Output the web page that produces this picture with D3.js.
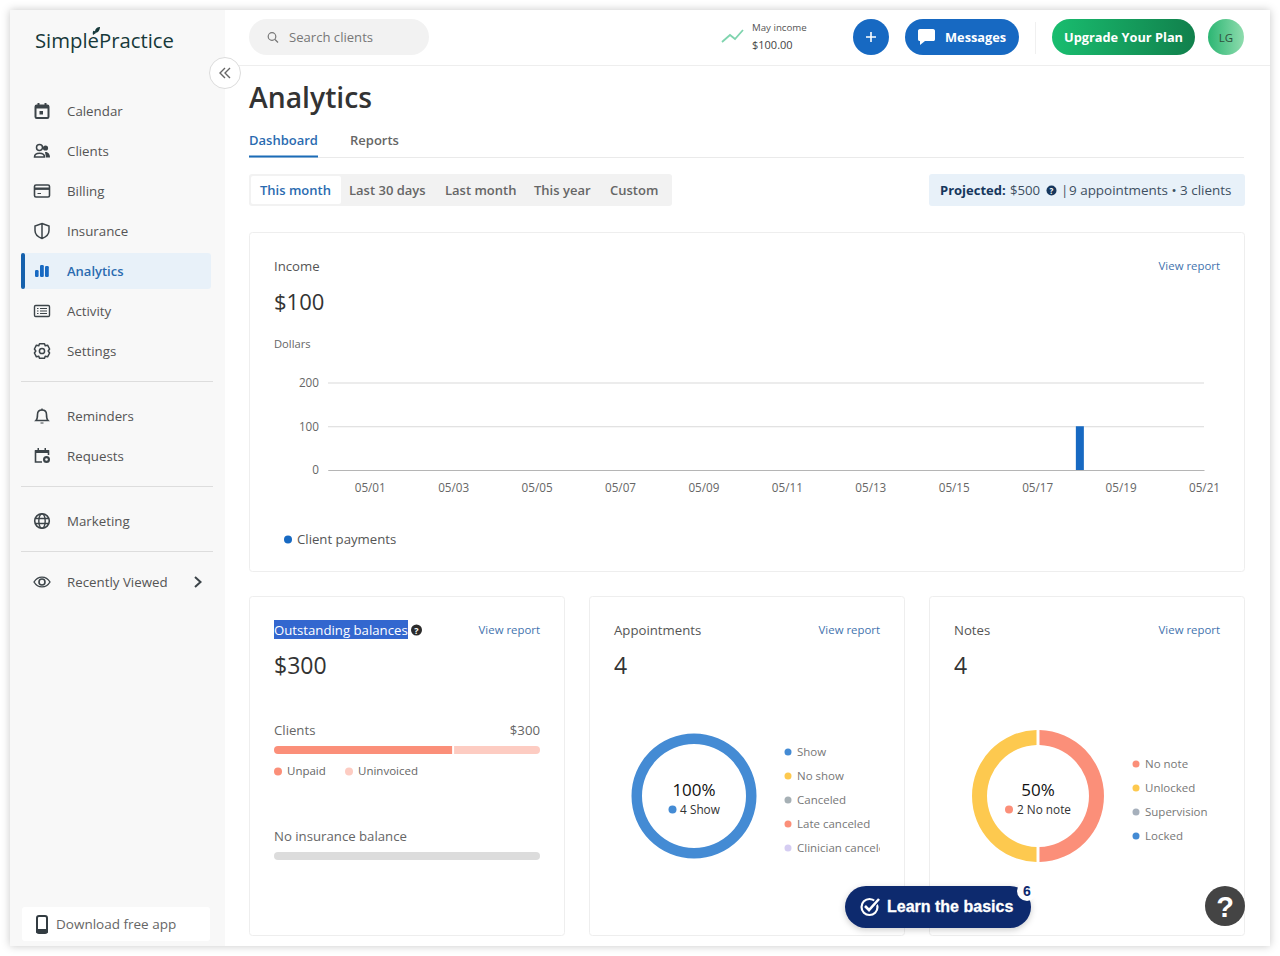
<!DOCTYPE html>
<html>
<head>
<meta charset="utf-8">
<title>Analytics</title>
<script src="https://cdn.jsdelivr.net/npm/d3@7"></script>
<style>
  html, body { margin: 0; background: #fff; }
  svg { display: block; font-family: "Open Sans", "Noto Sans", sans-serif; }
  .card { fill: #fff; stroke: #eeeeee; }
</style>
</head>
<body>
<div id="chart"></div>
<script>
/* Data */
const navTop = ['Calendar', 'Clients', 'Billing', 'Insurance', 'Analytics', 'Activity', 'Settings'];
const navMiddle = ['Reminders', 'Requests'];
const rangeTabs = ['This month', 'Last 30 days', 'Last month', 'This year', 'Custom'];

const days = ['04/30', '05/01', '05/02', '05/03', '05/04', '05/05', '05/06', '05/07', '05/08', '05/09', '05/10',
  '05/11', '05/12', '05/13', '05/14', '05/15', '05/16', '05/17', '05/18', '05/19', '05/20', '05/21'];
const clientPayments = [0, 0, 0, 0, 0, 0, 0, 0, 0, 0, 0, 0, 0, 0, 0, 0, 0, 0, 100, 0, 0, 0];
const incomeTicks = [0, 100, 200];
const dayTicks = ['05/01', '05/03', '05/05', '05/07', '05/09', '05/11', '05/13', '05/15', '05/17', '05/19', '05/21'];

const balanceLabels = ['Unpaid', 'Uninvoiced'];
const balanceValues = [202, 98];
const balanceColors = ['#fb8f79', '#fdccc2'];

const apptLabels = ['Show', 'No show', 'Canceled', 'Late canceled', 'Clinician canceled'];
const apptValues = [4, 0, 0, 0, 0];
const apptColors = ['#448bd4', '#fdc94f', '#a6b0b5', '#fb8f79', '#d5cdf2'];

const noteLabels = ['No note', 'Unlocked', 'Supervision', 'Locked'];
const noteValues = [2, 2, 0, 0];
const noteColors = ['#fb8f79', '#fdc94f', '#a6b0bc', '#448bd4'];

const blue = '#1769c2';
const width = 1280;
const height = 956;

const svg = d3.select('#chart').append('svg')
  .attr('width', width)
  .attr('height', height)
  .attr('viewBox', `0 0 ${width} ${height}`);

const defs = svg.append('defs');

const shadow = defs.append('filter').attr('id', 'shadow')
  .attr('x', '-3%').attr('y', '-3%').attr('width', '106%').attr('height', '106%');
shadow.append('feDropShadow').attr('dx', 0).attr('dy', 0).attr('stdDeviation', 4)
  .attr('flood-color', '#000').attr('flood-opacity', 0.22);

const pillShadow = defs.append('filter').attr('id', 'pill-shadow')
  .attr('x', '-10%').attr('y', '-30%').attr('width', '120%').attr('height', '160%');
pillShadow.append('feDropShadow').attr('dx', 0).attr('dy', 2).attr('stdDeviation', 3)
  .attr('flood-color', '#000').attr('flood-opacity', 0.2);

function gradient(id, c0, c1, vertical) {
  const g = defs.append('linearGradient').attr('id', id)
    .attr('x2', vertical ? 0 : 1).attr('y2', vertical ? 1 : 0);
  g.append('stop').attr('offset', '0%').attr('stop-color', c0);
  g.append('stop').attr('offset', '100%').attr('stop-color', c1);
}
gradient('upgrade', '#19bd6f', '#11804c');
gradient('avatar', '#2cb673', '#8fdcae');

function label(parent, x, y, str, size, fill, opts = {}) {
  return parent.append('text')
    .attr('x', x).attr('y', y)
    .attr('font-size', size)
    .attr('fill', fill)
    .attr('font-weight', opts.weight || 400)
    .attr('text-anchor', opts.anchor || 'start')
    .attr('font-family', opts.family || null)
    .text(str);
}

function box(parent, x, y, w, h, r, fill) {
  return parent.append('rect')
    .attr('x', x).attr('y', y).attr('width', w).attr('height', h).attr('rx', r)
    .attr('fill', fill);
}

/* Window and sidebar */
box(svg, 10, 10, 1260, 936, 0, '#fff').attr('filter', 'url(#shadow)');
box(svg, 10, 10, 215, 936, 0, '#f8f8f8');

const logo = svg.append('g');
label(logo, 35, 48, 'SimplePractice', 20.3, '#17393a', { weight: 500 });
logo.append('path').attr('d', 'M93 35 C92 31 94 29 96 33 Z M95 32 C95 28 98 27 100 27 C100 30 98 33 95 33 Z')
  .attr('fill', '#17393a');

const icons = {
  Calendar: (g) => {
    g.append('rect').attr('x', -6.5).attr('y', -5.5).attr('width', 13).attr('height', 12.5).attr('rx', 1.2)
      .attr('fill', 'none').attr('stroke', '#3c4449').attr('stroke-width', 2);
    g.append('path').attr('d', 'M-7 -6H7V-2.5H-7ZM-4.5 -8H-2.5V-5H-4.5ZM2.5 -8H4.5V-5H2.5Z').attr('fill', '#3c4449');
    g.append('rect').attr('x', -2.5).attr('y', 0).attr('width', 3.5).attr('height', 3.5).attr('fill', '#3c4449');
  },
  Clients: (g) => {
    g.append('circle').attr('cx', -2.5).attr('cy', -3.5).attr('r', 3).attr('fill', 'none').attr('stroke', '#3c4449').attr('stroke-width', 1.5);
    g.append('circle').attr('cx', 3.5).attr('cy', -3).attr('r', 2.6).attr('fill', '#3c4449');
    g.append('path').attr('d', 'M-7.5 6C-7.5 1 2.5 1 2.5 6Z').attr('fill', 'none').attr('stroke', '#3c4449').attr('stroke-width', 1.5);
    g.append('path').attr('d', 'M3 1C6 0.5 8 3 8 6.5H4Z').attr('fill', '#3c4449');
  },
  Billing: (g) => {
    g.append('rect').attr('x', -7.5).attr('y', -6).attr('width', 15).attr('height', 12).attr('rx', 1.5)
      .attr('fill', 'none').attr('stroke', '#3c4449').attr('stroke-width', 1.6);
    g.append('rect').attr('x', -7.5).attr('y', -3.5).attr('width', 15).attr('height', 2.4).attr('fill', '#3c4449');
    g.append('rect').attr('x', -4.5).attr('y', 2).attr('width', 3.5).attr('height', 1).attr('fill', '#3c4449');
  },
  Insurance: (g) => {
    g.append('path').attr('d', 'M0 -7.5L7 -5V-0.5C7 3.5 4 6 0 7.5C-4 6 -7 3.5 -7 -0.5V-5Z M0 -7.5V7.5')
      .attr('fill', 'none').attr('stroke', '#3c4449').attr('stroke-width', 1.5);
  },
  Analytics: (g) => {
    [[-7, -1, 3.6, 7], [-2, -6, 3.8, 12], [3, -5, 3.8, 11]].forEach(([x, y, w, h]) => {
      g.append('rect').attr('x', x).attr('y', y).attr('width', w).attr('height', h).attr('rx', 1.2).attr('fill', blue);
    });
  },
  Activity: (g) => {
    g.append('rect').attr('x', -7.5).attr('y', -5.5).attr('width', 15).attr('height', 11).attr('rx', 1.2)
      .attr('fill', 'none').attr('stroke', '#3c4449').attr('stroke-width', 1.4);
    g.append('path').attr('d', 'M-5 -2.5H-3.5M-5 0H-3.5M-5 2.5H-3.5M-2 -2.5H5M-2 0H5M-2 2.5H5')
      .attr('stroke', '#3c4449').attr('stroke-width', 1.2);
  },
  Settings: (g) => {
    g.append('circle').attr('r', 2.6).attr('fill', 'none').attr('stroke', '#3c4449').attr('stroke-width', 1.5);
    g.append('path').attr('d', 'M-2.5 -7.2H2.5L3.2 -5.2L5.6 -5.8L7.6 -2L6.2 0L7.6 2L5.6 5.8L3.2 5.2L2.5 7.2H-2.5L-3.2 5.2L-5.6 5.8L-7.6 2L-6.2 0L-7.6 -2L-5.6 -5.8L-3.2 -5.2Z')
      .attr('fill', 'none').attr('stroke', '#3c4449').attr('stroke-width', 1.5).attr('stroke-linejoin', 'round');
  },
  Reminders: (g) => {
    g.append('path').attr('d', 'M-6 4.5C-4.5 3 -4.5 1 -4.5 -1.5C-4.5 -4.5 -2.5 -6 0 -6C2.5 -6 4.5 -4.5 4.5 -1.5C4.5 1 4.5 3 6 4.5Z')
      .attr('fill', 'none').attr('stroke', '#3c4449').attr('stroke-width', 1.6);
    g.append('path').attr('d', 'M-1.5 6.5H1.5V7.5H-1.5ZM-0.7 -7.5H0.7V-5.5H-0.7Z').attr('fill', '#3c4449');
  },
  Requests: (g) => {
    g.append('path').attr('d', 'M0 6H-6.5V-5H6.5V-1').attr('fill', 'none').attr('stroke', '#3c4449').attr('stroke-width', 1.6);
    g.append('path').attr('d', 'M-7 -6H7V-3H-7ZM-4.5 -8H-3V-5H-4.5ZM2.5 -8H4V-5H2.5Z').attr('fill', '#3c4449');
    g.append('circle').attr('cx', 4.5).attr('cy', 3.5).attr('r', 3.5).attr('fill', '#3c4449');
    g.append('circle').attr('cx', 4.5).attr('cy', 3.5).attr('r', 1.3).attr('fill', '#f8f8f8');
  },
  Marketing: (g) => {
    g.append('circle').attr('r', 7.3).attr('fill', 'none').attr('stroke', '#3c4449').attr('stroke-width', 1.6);
    g.append('ellipse').attr('rx', 3.2).attr('ry', 7.3).attr('fill', 'none').attr('stroke', '#3c4449').attr('stroke-width', 1.4);
    g.append('path').attr('d', 'M-7 -2.5H7M-7 2.5H7').attr('stroke', '#3c4449').attr('stroke-width', 1.4);
  },
  'Recently Viewed': (g) => {
    g.append('path').attr('d', 'M-8 0C-4 -6.5 4 -6.5 8 0C4 6.5 -4 6.5 -8 0Z').attr('fill', 'none').attr('stroke', '#3c4449').attr('stroke-width', 1.4);
    g.append('circle').attr('r', 3).attr('fill', 'none').attr('stroke', '#3c4449').attr('stroke-width', 1.6);
  },
};

function navItem(name, y) {
  const active = name === 'Analytics';
  if (active) {
    box(svg, 21, y - 18, 190, 36, 3, '#e8f1f9');
    box(svg, 21, y - 18, 4, 36, 2, '#1561ad');
  }
  const g = svg.append('g').attr('transform', `translate(42,${y})`);
  icons[name](g);
  label(svg, 67, y + 5, name, active ? 13 : 13.3, active ? '#2a6bb0' : '#555', { weight: active ? 600 : 400 });
}

const navY = d3.scalePoint().domain(navTop).range([111, 351]);
navTop.forEach((n) => navItem(n, navY(n)));
const navY2 = d3.scalePoint().domain(navMiddle).range([416, 456]);
navMiddle.forEach((n) => navItem(n, navY2(n)));
navItem('Marketing', 521);
navItem('Recently Viewed', 582);

svg.append('path').attr('d', 'M195 577L200.5 582L195 587').attr('fill', 'none').attr('stroke', '#3c4449').attr('stroke-width', 2);
[381.5, 486.5, 551.5].forEach((y) => {
  svg.append('line').attr('x1', 21).attr('x2', 213).attr('y1', y).attr('y2', y).attr('stroke', '#dddddd');
});

box(svg, 22, 907, 188, 34, 3, '#fff');
box(svg, 37, 916, 10, 17, 2, 'none').attr('stroke', '#333c42').attr('stroke-width', 2);
svg.append('rect').attr('x', 36).attr('y', 929).attr('width', 12).attr('height', 4).attr('rx', 1).attr('fill', '#333c42');
label(svg, 56, 929, 'Download free app', 13.5, '#666', { weight: 500 });

/* Top bar */
svg.append('line').attr('x1', 225).attr('x2', 1270).attr('y1', 65.5).attr('y2', 65.5).attr('stroke', '#eeeeee');
svg.append('circle').attr('cx', 225).attr('cy', 73).attr('r', 15.5).attr('fill', '#fff').attr('stroke', '#dcdcdc');
svg.append('path').attr('d', 'M225 68L220 73L225 78M230 68L225 73L230 78').attr('fill', 'none').attr('stroke', '#666').attr('stroke-width', 1.4);

box(svg, 249, 19, 180, 36, 18, '#f2f2f2');
svg.append('circle').attr('cx', 272).attr('cy', 36.5).attr('r', 3.8).attr('fill', 'none').attr('stroke', '#777').attr('stroke-width', 1.2);
svg.append('line').attr('x1', 275).attr('y1', 39.5).attr('x2', 278).attr('y2', 42.5).attr('stroke', '#777').attr('stroke-width', 1.2);
label(svg, 289, 42, 'Search clients', 13.1, '#777');

svg.append('path').attr('d', 'M722 42L730 35L735 39L743 30').attr('fill', 'none').attr('stroke', '#7fd4ae').attr('stroke-width', 1.8);
label(svg, 752, 31, 'May income', 9.7, '#555');
label(svg, 752, 49, '$100.00', 11, '#444');

svg.append('circle').attr('cx', 871).attr('cy', 37).attr('r', 18).attr('fill', blue);
svg.append('path').attr('d', 'M871 32V42M866 37H876').attr('stroke', '#fff').attr('stroke-width', 1.6);
box(svg, 905, 19, 114, 36, 18, blue);
svg.append('path').attr('d', 'M920 29H933C934.5 29 935 30 935 31V39C935 40.5 934.5 41 933 41H925L920 45V41C918.5 41 918 40.5 918 39V31C918 30 918.5 29 920 29Z').attr('fill', '#fff');
label(svg, 945, 42, 'Messages', 12.8, '#fff', { weight: 700 });
svg.append('line').attr('x1', 1035.5).attr('x2', 1035.5).attr('y1', 22).attr('y2', 54).attr('stroke', '#f0f0f0');
box(svg, 1052, 19, 143, 36, 18, 'url(#upgrade)');
label(svg, 1123.5, 42, 'Upgrade Your Plan', 12.8, '#fff', { weight: 700, anchor: 'middle' });
svg.append('circle').attr('cx', 1226).attr('cy', 37).attr('r', 18).attr('fill', 'url(#avatar)');
label(svg, 1226, 41.5, 'LG', 11.5, '#2f4f3c', { anchor: 'middle' });

/* Page heading and tabs */
label(svg, 249, 108, 'Analytics', 28.3, '#333', { weight: 600 });
label(svg, 249, 145, 'Dashboard', 13, '#2a6bb0', { weight: 600 });
label(svg, 350, 145, 'Reports', 13, '#666', { weight: 600 });
svg.append('line').attr('x1', 249).attr('x2', 1244).attr('y1', 157.5).attr('y2', 157.5).attr('stroke', '#eaeaea');
box(svg, 249, 155.5, 69, 2, 0, '#1b6cb8');

box(svg, 249, 174, 423, 32, 3, '#f2f2f2');
box(svg, 251, 176, 90, 28, 2, '#fff');
const tabX = d3.scaleOrdinal().domain(rangeTabs).range([260, 349, 445, 534, 610]);
rangeTabs.forEach((t, i) => {
  label(svg, tabX(t), 194.5, t, 13, i === 0 ? '#2a6bb0' : '#666', { weight: 600 });
});

box(svg, 929, 174, 316, 32, 3, '#e8f1f9');
label(svg, 940, 195, 'Projected:', 13, '#16375d', { weight: 700 });
label(svg, 1010, 195, '$500', 13.2, '#3d4f61');
svg.append('circle').attr('cx', 1051.5).attr('cy', 190.5).attr('r', 5).attr('fill', '#16375d');
label(svg, 1051.5, 193.5, '?', 8, '#fff', { anchor: 'middle', weight: 700 });
label(svg, 1061, 195, '|', 13.4, '#3d4f61');
label(svg, 1069, 195, '9 appointments • 3 clients', 13.45, '#3d4f61');

/* Income card */
svg.append('rect').attr('class', 'card').attr('x', 249.5).attr('y', 232.5).attr('width', 995).attr('height', 339).attr('rx', 3);
label(svg, 274, 271, 'Income', 13.2, '#555');
label(svg, 1220, 270, 'View report', 11.4, '#3f73ae', { anchor: 'end' });
label(svg, 274, 310, '$100', 22, '#333', { weight: 500 });
label(svg, 274, 348, 'Dollars', 11.2, '#666');

const x = d3.scalePoint().domain(days).range([328, 1204]);
const y = d3.scaleLinear().domain([0, 200]).range([470, 382.5]);

const yAxis = svg.append('g')
  .attr('transform', 'translate(328,0)')
  .call(d3.axisLeft(y).tickValues(incomeTicks).tickSize(-876).tickPadding(9))
  .attr('font-family', null)
  .attr('font-size', 11.7);
yAxis.select('.domain').remove();
yAxis.selectAll('line').attr('stroke', '#d9d9d9');
yAxis.selectAll('text').attr('fill', '#666');

svg.selectAll('rect.payment')
  .data(clientPayments.map((v, i) => ({ day: days[i], value: v })).filter((d) => d.value > 0))
  .join('rect')
  .attr('class', 'payment')
  .attr('x', (d) => x(d.day) - 3)
  .attr('width', 8)
  .attr('y', (d) => y(d.value))
  .attr('height', (d) => y(0) - y(d.value))
  .attr('fill', '#1769c2');

const xAxis = svg.append('g')
  .attr('transform', `translate(0,${y(0)})`)
  .call(d3.axisBottom(x).tickValues(dayTicks).tickSize(0).tickPadding(14))
  .attr('font-family', null)
  .attr('font-size', 11.7);
xAxis.select('.domain').attr('stroke', '#b5b5b5');
xAxis.selectAll('text').attr('fill', '#666');

svg.append('circle').attr('cx', 288).attr('cy', 539.5).attr('r', 4).attr('fill', '#1769c2');
label(svg, 297, 544, 'Client payments', 13.2, '#555');

/* Bottom cards */
[249.5, 589.5, 929.5].forEach((cx) => {
  svg.append('rect').attr('class', 'card').attr('x', cx).attr('y', 596.5).attr('width', 315).attr('height', 339).attr('rx', 3);
});

// Outstanding balances
box(svg, 274, 620, 134, 19, 0, '#3367cf');
label(svg, 274, 635, 'Outstanding balances', 13.2, '#fff');
svg.append('circle').attr('cx', 416.5).attr('cy', 630).attr('r', 5.5).attr('fill', '#2b2b2b');
label(svg, 416.5, 633.5, '?', 9, '#fff', { anchor: 'middle', weight: 700 });
label(svg, 540, 634, 'View report', 11.4, '#3f73ae', { anchor: 'end' });
label(svg, 274, 674, '$300', 23, '#333', { weight: 500 });
label(svg, 274, 735, 'Clients', 13.2, '#666');
label(svg, 540, 735, '$300', 13.2, '#666', { anchor: 'end' });

const balanceX = d3.scaleLinear().domain([0, d3.sum(balanceValues)]).range([274, 540]);
defs.append('clipPath').attr('id', 'balance-clip')
  .append('rect').attr('x', 274).attr('y', 746).attr('width', 266).attr('height', 8).attr('rx', 4);
const balanceStart = d3.cumsum([0, ...balanceValues]);
svg.append('g').attr('clip-path', 'url(#balance-clip)')
  .selectAll('rect')
  .data(balanceValues)
  .join('rect')
  .attr('x', (d, i) => balanceX(balanceStart[i]) + (i === 0 ? 0 : 1))
  .attr('width', (d) => balanceX(d) - balanceX(0) - 1)
  .attr('y', 746)
  .attr('height', 8)
  .attr('fill', (d, i) => balanceColors[i]);

const balanceKeyX = d3.scaleOrdinal().domain(balanceLabels).range([278, 349]);
balanceLabels.forEach((l, i) => {
  svg.append('circle').attr('cx', balanceKeyX(l)).attr('cy', 771.5).attr('r', 4).attr('fill', balanceColors[i]);
  label(svg, balanceKeyX(l) + 9, 775, l, 11.5, '#666');
});

label(svg, 274, 841, 'No insurance balance', 13.2, '#666');
box(svg, 274, 852, 266, 8, 4, '#dcdcdc');

// Appointments and notes
function donutCard(o) {
  label(svg, o.left, 635, o.title, 13.2, '#555');
  label(svg, o.left + 266, 634, 'View report', 11.4, '#3f73ae', { anchor: 'end' });
  label(svg, o.left, 674, String(d3.sum(o.values)), 23, '#333', { weight: 500 });

  const pie = d3.pie().sort(null).startAngle(0).endAngle(2 * Math.PI);
  const arc = d3.arc().innerRadius(o.inner).outerRadius(o.outer).padAngle(o.pad).padRadius(o.outer);
  const g = svg.append('g').attr('transform', `translate(${o.cx},${o.cy})`);
  g.selectAll('path')
    .data(pie(o.values).filter((d) => d.value > 0))
    .join('path')
    .attr('d', arc)
    .attr('fill', (d) => o.colors[d.index]);

  const share = d3.format('.0%')(o.values[0] / d3.sum(o.values));
  label(svg, o.cx, o.cy + 0, share, 17, '#111', { anchor: 'middle' });
  const caption = `${o.values[0]} ${o.labels[0]}`;
  label(svg, o.cx + 6, o.cy + 18, caption, 11.8, '#333', { anchor: 'middle' });
  svg.append('circle').attr('cx', o.capDot).attr('cy', o.cy + 13.5).attr('r', 4).attr('fill', o.colors[0]);

  const keyY = d3.scalePoint().domain(o.labels).range(o.keyRange);
  const key = svg.append('g').attr('clip-path', o.clip || null);
  o.labels.forEach((l, i) => {
    key.append('circle').attr('cx', o.keyX).attr('cy', keyY(l)).attr('r', 3.5).attr('fill', o.colors[i]);
    label(key, o.keyX + 9, keyY(l) + 4, l, 11.5, '#777');
  });
}

defs.append('clipPath').attr('id', 'appt-clip')
  .append('rect').attr('x', 780).attr('y', 735).attr('width', 100).attr('height', 130);

donutCard({
  title: 'Appointments', left: 614, values: apptValues, labels: apptLabels, colors: apptColors,
  cx: 694, cy: 796, outer: 62.5, inner: 52, pad: 0, capDot: 672.5,
  keyX: 788, keyRange: [752, 848], clip: 'url(#appt-clip)',
});
donutCard({
  title: 'Notes', left: 954, values: noteValues, labels: noteLabels, colors: noteColors,
  cx: 1038, cy: 796, outer: 66, inner: 51, pad: 0.045, capDot: 1009,
  keyX: 1136, keyRange: [764, 836],
});

/* Floating buttons */
box(svg, 845, 886, 186, 42, 21, '#0e2a6e').attr('filter', 'url(#pill-shadow)');
svg.append('circle').attr('cx', 869.5).attr('cy', 907).attr('r', 8).attr('fill', 'none').attr('stroke', '#fff').attr('stroke-width', 2.2);
svg.append('path').attr('d', 'M865 906L869 910L879 899').attr('fill', 'none').attr('stroke', '#0e2a6e').attr('stroke-width', 5);
svg.append('path').attr('d', 'M865 906L869 910L879 899').attr('fill', 'none').attr('stroke', '#fff').attr('stroke-width', 2.6);
label(svg, 887, 912, 'Learn the basics', 16, '#fff', { weight: 700, family: 'Liberation Sans' })
  .attr('stroke', '#fff').attr('stroke-width', 0.3);
svg.append('circle').attr('cx', 1027).attr('cy', 891).attr('r', 10).attr('fill', '#fff');
label(svg, 1027, 896, '6', 14, '#0e2a6e', { weight: 700, anchor: 'middle', family: 'Liberation Sans' });
svg.append('circle').attr('cx', 1225).attr('cy', 906).attr('r', 20).attr('fill', '#444');
label(svg, 1225, 916.5, '?', 29, '#fff', { weight: 700, anchor: 'middle', family: 'Liberation Sans' });
</script>
</body>
</html>
